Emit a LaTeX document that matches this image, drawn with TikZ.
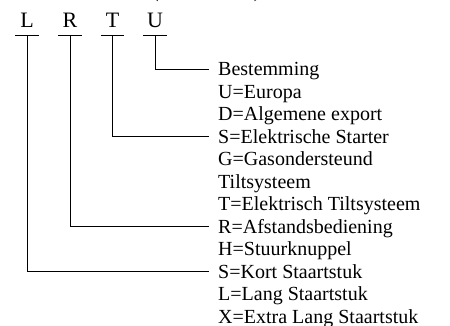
\documentclass[tikz,border=0pt]{standalone}
\usepackage{fontspec}
\setmainfont{Liberation Serif}
\begin{document}
\begin{tikzpicture}[x=1pt,y=-1pt,
  letter/.style={inner sep=0pt, font=\fontsize{22}{24}\selectfont, text height=15pt, text depth=7pt, minimum width=23pt, anchor=base},
  bar/.style={line width=0.8pt},
  conn/.style={line width=0.8pt},
  row/.style={inner xsep=9pt, inner ysep=0pt, font=\fontsize{20}{22}\selectfont, text height=13.3pt, text depth=0pt, anchor=base west}]
\useasboundingbox (0,0) rectangle (450,326);
% cut-off title at the top
\node[inner sep=0pt, anchor=base west, font=\fontsize{20}{22}\selectfont] (title) at (152,-2.5) {(\hspace{95pt})};
% code letters
\node[letter] (L) at (27,28) {L};
\node[letter] (R) at (70,28) {R};
\node[letter] (T) at (112.5,28) {T};
\node[letter] (U) at (155,28) {U};
\foreach \n in {L,R,T,U} {\draw[bar] (\n.south west) -- (\n.south east);}
% rows
\def\rowy#1{75.7+22.5*#1}
\node[row] (r0) at (209,{\rowy{0}}) {Bestemming};
\node[row] (r1) at (209,{\rowy{1}}) {U=Europa};
\node[row] (r2) at (209,{\rowy{2}}) {D=Algemene export};
\node[row] (r3) at (209,{\rowy{3}}) {S=Elektrische Starter};
\node[row] (r4) at (209,{\rowy{4}}) {G=Gasondersteund};
\node[row] (r5) at (209,{\rowy{5}}) {Tiltsysteem};
\node[row] (r6) at (209,{\rowy{6}}) {T=Elektrisch Tiltsysteem};
\node[row] (r7) at (209,{\rowy{7}}) {R=Afstandsbediening};
\node[row] (r8) at (209,{\rowy{8}}) {H=Stuurknuppel};
\node[row] (r9) at (209,{\rowy{9}}) {S=Kort Staartstuk};
\node[row] (r10) at (209,{\rowy{10}}) {L=Lang Staartstuk};
\node[row] (r11) at (209,{\rowy{11}}) {X=Extra Lang Staartstuk};
% connectors
\draw[conn] (U.south) |- (r0.west);
\draw[conn] (T.south) |- (r3.west);
\draw[conn] (R.south) |- (r7.west);
\draw[conn] (L.south) |- (r9.west);
\end{tikzpicture}
\end{document}
